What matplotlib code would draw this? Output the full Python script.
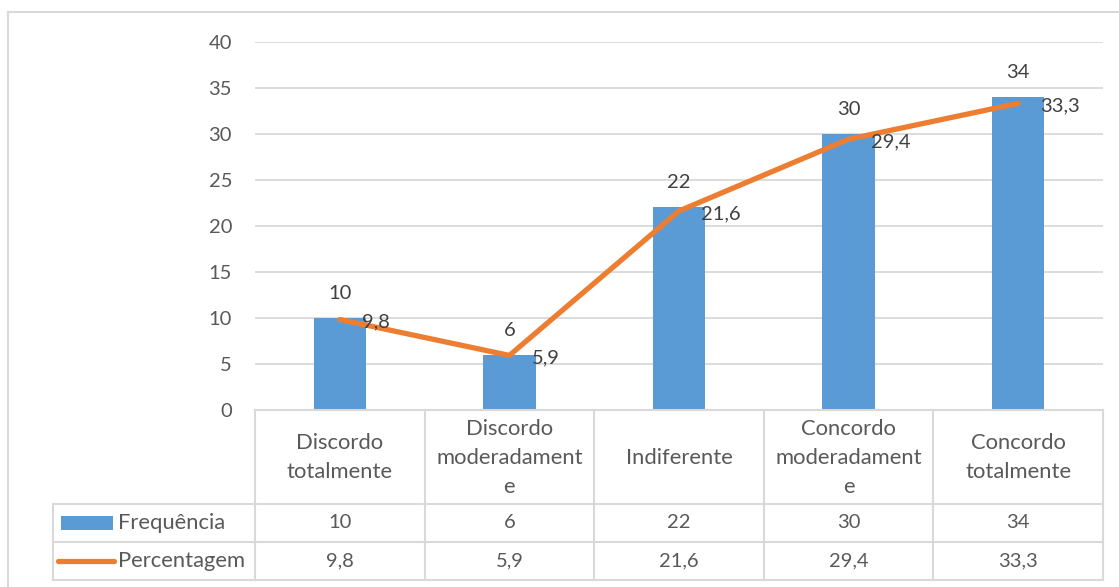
import matplotlib
matplotlib.use("Agg")
import matplotlib.pyplot as plt
from matplotlib import transforms
from matplotlib.lines import Line2D
from matplotlib.patches import Rectangle

# Survey responses: count and percentage per answer
categories = ["Discordo\ntotalmente", "Discordo\nmoderadament\ne", "Indiferente",
              "Concordo\nmoderadament\ne", "Concordo\ntotalmente"]
frequencia = [10, 6, 22, 30, 34]
percentagem = [9.8, 5.9, 21.6, 29.4, 33.3]
freq_labels = ["10", "6", "22", "30", "34"]
perc_labels = ["9,8", "5,9", "21,6", "29,4", "33,3"]
series_names = ["Frequência", "Percentagem"]
yticks = [0, 5, 10, 15, 20, 25, 30, 35, 40]

BLUE = "#5B9BD5"
ORANGE = "#ED7D31"
GRID = "#D9D9D9"
TICK = "#595959"
LABEL = "#404040"
FONT = "Lato"
FS = 14.5      # numbers
FS_TXT = 15.8  # words

W, H = 1119, 587
fig = plt.figure(figsize=(W / 100, H / 100), dpi=100)
fig.patch.set_facecolor("white")

# pixel coordinates measured from the top-left corner of the figure
pix = transforms.Affine2D().scale(1 / W, -1 / H).translate(0, 1) + fig.transFigure

top_px, bot_px, left_px, right_px = 41.7, 409.7, 255, 1103
ax = fig.add_axes([left_px / W, 1 - bot_px / H, (right_px - left_px) / W, (bot_px - top_px) / H])
x = list(range(len(categories)))
ax.bar(x, frequencia, width=0.31, color=BLUE, zorder=2)
ax.plot(x, percentagem, color=ORANGE, lw=3.8, solid_capstyle="round",
        solid_joinstyle="round", zorder=3)
ax.set_xlim(-0.5, len(categories) - 0.5)
ax.set_ylim(0, 40)
ax.set_yticks(yticks)
ax.set_yticklabels([str(t) for t in yticks], fontfamily=FONT, fontsize=FS, color=TICK)
ax.tick_params(axis="y", length=0, pad=16.5)
ax.set_xticks([])
ax.yaxis.grid(True, color=GRID, lw=1.3, zorder=0)
ax.set_axisbelow(True)
for s in ["top", "right", "left"]:
    ax.spines[s].set_visible(False)
ax.spines["bottom"].set_color(GRID)
ax.spines["bottom"].set_linewidth(1.5)

# data labels
for i, (v, lab) in enumerate(zip(frequencia, freq_labels)):
    ax.annotate(lab, xy=(i, v), xytext=(0, 17.5), textcoords="offset points",
                ha="center", va="center", fontfamily=FONT, fontsize=FS, color=LABEL, zorder=4)
for i, (v, lab) in enumerate(zip(percentagem, perc_labels)):
    ax.annotate(lab, xy=(i, v), xytext=(16, -2), textcoords="offset points",
                ha="left", va="center", fontfamily=FONT, fontsize=FS, color=LABEL, zorder=4)

# data table beneath the axis
col_t = transforms.blended_transform_factory(ax.transData, pix)
row_lines = [504, 542, 580]
tab_left = 53
lkw = dict(color=GRID, lw=1.5, clip_on=False)
for xb in [i - 0.5 for i in range(len(categories) + 1)]:
    fig.add_artist(Line2D([xb, xb], [bot_px, row_lines[-1]], transform=col_t, **lkw))
for yr in row_lines:
    fig.add_artist(Line2D([tab_left, left_px], [yr, yr], transform=pix, **lkw))
    fig.add_artist(Line2D([-0.5, len(categories) - 0.5], [yr, yr], transform=col_t, **lkw))
fig.add_artist(Line2D([tab_left, tab_left], [row_lines[0], row_lines[-1]], transform=pix, **lkw))

tkw = dict(fontfamily=FONT, color=TICK, ha="center", va="center")
for i, cat in enumerate(categories):
    fig.text(i, (bot_px + row_lines[0]) / 2 + 1, cat, transform=col_t, linespacing=1.55,
             fontsize=FS_TXT, **tkw)
    fig.text(i, (row_lines[0] + row_lines[1]) / 2, freq_labels[i], transform=col_t,
             fontsize=FS, **tkw)
    fig.text(i, (row_lines[1] + row_lines[2]) / 2, perc_labels[i], transform=col_t,
             fontsize=FS, **tkw)

# legend keys inside the table's first column
fig.add_artist(Rectangle((61, 516), 52, 14, transform=pix, color=BLUE, lw=0))
fig.add_artist(Line2D([58, 114], [561, 561], transform=pix, color=ORANGE, lw=3.8,
                      solid_capstyle="round"))
fig.text(118, 523, series_names[0], transform=pix, fontfamily=FONT, fontsize=FS_TXT,
         color=TICK, ha="left", va="center")
fig.text(118, 561, series_names[1], transform=pix, fontfamily=FONT, fontsize=FS_TXT,
         color=TICK, ha="left", va="center")

# chart area frame
fig.add_artist(Line2D([8, 8], [12, H], transform=pix, **lkw))
fig.add_artist(Line2D([8, W], [12, 12], transform=pix, **lkw))

fig.savefig("out.png", dpi=100, facecolor="white")
